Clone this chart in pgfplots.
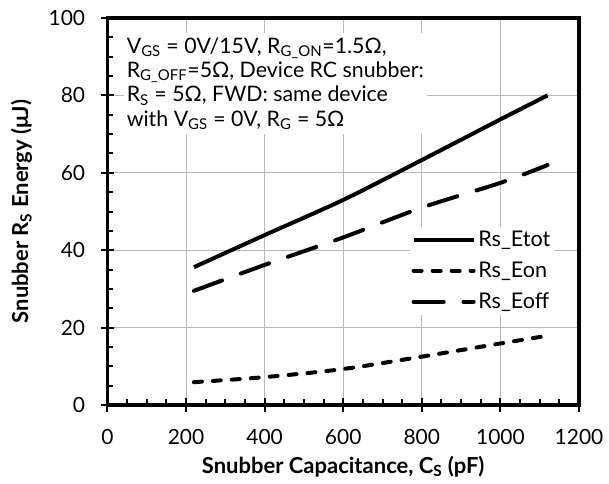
\documentclass[border=0pt]{standalone}
\usepackage{fontspec}
\setmainfont{Lato}
\usepackage{pgfplots}
\pgfplotsset{compat=1.18}

\definecolor{gridgray}{RGB}{185,185,185}

\begin{document}
\begin{tikzpicture}
\path[use as bounding box] (-80.55pt,-58.5pt) rectangle (376.2pt,303.75pt);
\begin{axis}[
    at={(0pt,0pt)}, anchor=south west,
    width=353.7pt, height=290.25pt, scale only axis,
    xmin=0, xmax=1200, ymin=0, ymax=100,
    xtick={0,200,...,1200}, ytick={0,20,...,100},
    minor x tick num=3, minor y tick num=3,
    xtick pos=bottom, ytick pos=left,
    tick align=inside,
    major tick length=10pt, minor tick length=4.5pt,
    major x tick style={yshift=-5pt},
    major y tick style={xshift=-5pt},
    every tick/.style={black, line width=1.5pt},
    grid=major,
    grid style={gridgray, line width=0.75pt},
    axis line style={line width=2.75pt},
    /pgf/number format/assume math mode=true,
    /pgf/number format/1000 sep={},
    ticklabel style={font=\fontsize{15.7}{18}\selectfont},
    xticklabel style={anchor=north, inner sep=0pt, yshift=-18pt},
    yticklabel style={anchor=east, inner sep=0pt, xshift=-16.5pt},
    xlabel={Snubber Capacitance, C\textsubscript{S} (pF)},
    ylabel={Snubber R\textsubscript{S} Energy (μJ)},
    label style={font=\bfseries\fontsize{16.5}{19}\selectfont},
    xlabel style={at={([yshift=-51pt]axis description cs:0.5,0)}, anchor=base},
    ylabel style={at={([xshift=-59.5pt]axis description cs:0,0.5)}, anchor=base},
    legend style={draw=none, fill=white, at={(axis cs:770,46)}, anchor=north west,
      font=\fontsize{16.2}{18}\selectfont, inner sep=1pt, row sep=6pt,
      cells={anchor=west}},
    legend image code/.code={\draw[#1] (0pt,0pt) -- (45pt,0pt);},
  ]
  % total energy
  \addplot[black, line width=3pt, smooth] coordinates {
    (220,35.6) (400,43.9) (600,53) (800,63.3) (1000,73.8) (1120,80)
  };
  % turn-on
  \addplot[black, line width=3pt, line cap=round, dash pattern=on 6pt off 8.25pt, smooth] coordinates {
    (220,5.9) (400,7.2) (600,9.3) (800,12.5) (1000,15.9) (1120,17.9)
  };
  % turn-off
  \addplot[black, line width=3pt, line cap=round, dash pattern=on 22.5pt off 15pt, smooth] coordinates {
    (220,29.5) (400,36.2) (600,43.3) (800,51) (1000,57.4) (1120,62)
  };
  \legend{Rs\_Etot, Rs\_Eon, Rs\_Eoff}
  \node[anchor=north west, fill=white, inner xsep=2pt, inner ysep=3pt, align=left,
    font=\fontsize{16}{18.3}\selectfont] at (axis cs:42,96.1)
    {V\textsubscript{GS} = 0V/15V, R\textsubscript{G\_ON}=1.5Ω,\\
     R\textsubscript{G\_OFF}=5Ω, Device RC snubber:\\
     R\textsubscript{S} = 5Ω, FWD: same device\\
     with V\textsubscript{GS} = 0V, R\textsubscript{G} = 5Ω};
\end{axis}
\end{tikzpicture}
\end{document}
